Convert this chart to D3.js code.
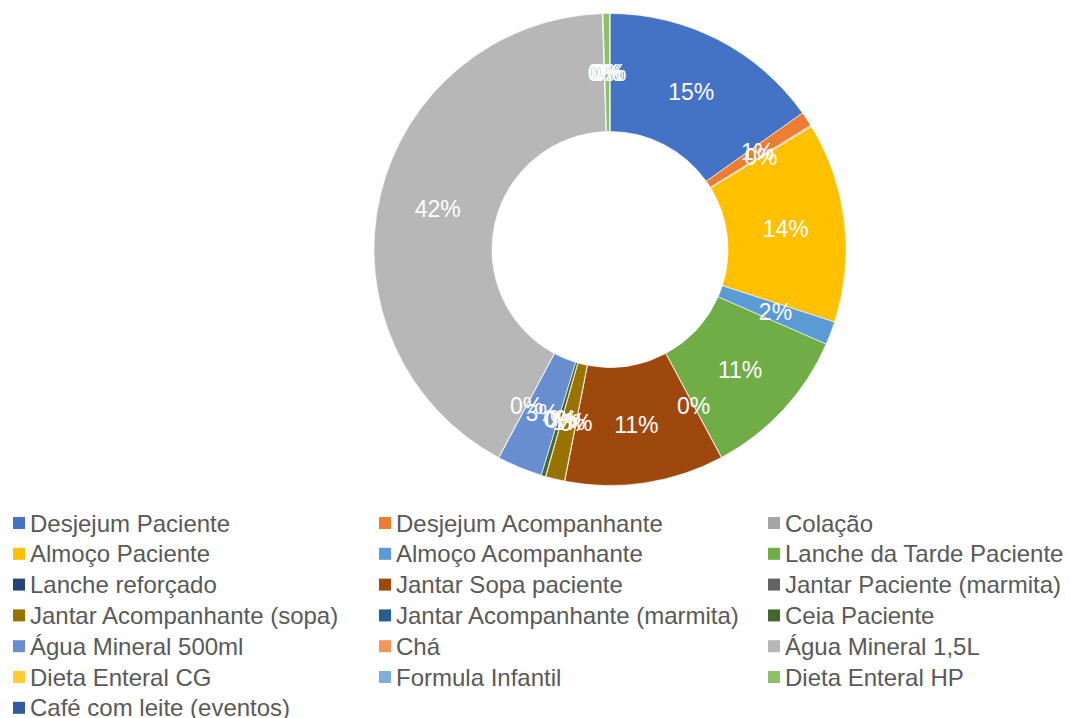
<!DOCTYPE html>
<html><head><meta charset="utf-8">
<script src="https://cdn.jsdelivr.net/npm/d3@7"></script>
<style>
body{margin:0;background:#fff;}
svg{display:block;font-family:"Liberation Sans",Arial,sans-serif;}
</style></head>
<body>
<svg id="c" width="1071" height="718"></svg>
<script>
const categories = [
  "Desjejum Paciente","Desjejum Acompanhante","Colação",
  "Almoço Paciente","Almoço Acompanhante","Lanche da Tarde Paciente",
  "Lanche reforçado","Jantar Sopa paciente","Jantar Paciente (marmita)",
  "Jantar Acompanhante (sopa)","Jantar Acompanhante (marmita)","Ceia Paciente",
  "Água Mineral 500ml","Chá","Água Mineral 1,5L",
  "Dieta Enteral CG","Formula Infantil","Dieta Enteral HP",
  "Café com leite (eventos)"
];
const values = [
  15.2, 1.0, 0.1,
  13.7, 1.6, 10.6,
  0.02, 10.9, 0.02,
  1.3, 0.02, 0.3,
  3.1, 0.02, 41.7,
  0.02, 0.02, 0.45,
  0.02
];
const colors = [
  "#4472C4","#ED7D31","#A5A5A5",
  "#FFC000","#5B9BD5","#70AD47",
  "#264478","#9E480E","#636363",
  "#997300","#255E91","#43682B",
  "#698ED0","#F1975A","#B7B7B7",
  "#FFCD33","#7CAFDD","#8CC168",
  "#335AA1"
];
const legendColumns = 3;

const svg = d3.select("#c");
const cx = 610, cy = 249.5, R = 236, r = 118;
const total = d3.sum(values);
const data = categories.map((c,i)=>({name:c, value:values[i], color:colors[i]}));

const pie = d3.pie().sort(null).value(d=>d.value).startAngle(0).endAngle(2*Math.PI);
const arc = d3.arc().innerRadius(r).outerRadius(R);
const labelArc = d3.arc().innerRadius((r+R)/2).outerRadius((r+R)/2);
const arcs = pie(data);

const g = svg.append("g").attr("transform",`translate(${cx},${cy})`);
g.selectAll("path.slice").data(arcs).join("path")
  .attr("class","slice")
  .attr("d",arc)
  .attr("fill",d=>d.data.color)
  .attr("stroke","#fff").attr("stroke-width",0.6);

const fmt = d3.format(".0%");
g.selectAll("text.lbl").data(arcs).join("text")
  .attr("class","lbl")
  .attr("transform",d=>`translate(${labelArc.centroid(d)})`)
  .attr("text-anchor","middle")
  .attr("dominant-baseline","central")
  .attr("fill","#fff")
  .attr("font-size","23px")
  .text(d=>fmt(d.data.value/total));

// legend
const colX = [13, 379, 768];
const rowY0 = 523, rowH = 30.8;
const lg = svg.append("g");
const items = lg.selectAll("g.item").data(data).join("g")
  .attr("class","item")
  .attr("transform",(d,i)=>`translate(${colX[i%legendColumns]},${rowY0 + Math.floor(i/legendColumns)*rowH})`);
items.append("rect").attr("x",0).attr("y",-6).attr("width",12).attr("height",12).attr("fill",d=>d.color);
items.append("text").attr("x",17).attr("y",0)
  .attr("dominant-baseline","central")
  .attr("fill","#595959").attr("font-size","24px")
  .text(d=>d.name);
</script>
</body></html>
